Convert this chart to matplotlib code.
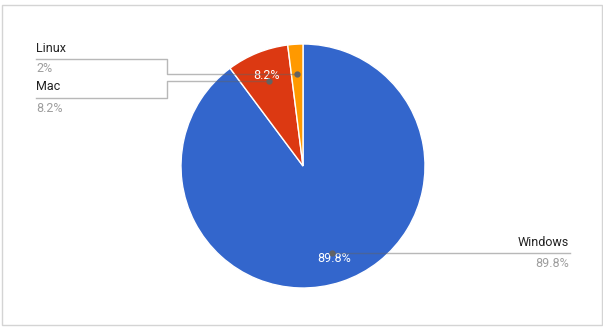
import numpy as np
import matplotlib.pyplot as plt
from matplotlib import rcParams
from matplotlib.patches import Rectangle

rcParams['font.family'] = ['Roboto', 'DejaVu Sans']
rcParams['font.size'] = 9

# data
labels = ['Windows', 'Mac', 'Linux']
values = [89.8, 8.2, 2.0]
value_labels = ['89.8%', '8.2%', '2%']
colors = ['#3366CC', '#DC3912', '#FF9900']

W, H = 603, 329
cx, cy, r = 303, H - 166, 122

fig = plt.figure(figsize=(W / 100, H / 100), dpi=100)
ax = fig.add_axes([0, 0, 1, 1])
ax.set_xlim(0, W)
ax.set_ylim(0, H)
ax.set_aspect('equal')
ax.axis('off')

# outer border
ax.add_patch(Rectangle((1.5, H - 325), 600, 320, fill=False,
                       edgecolor='#d4d4d4', linewidth=1))

wedges, texts, autotexts = ax.pie(
    values, colors=colors, startangle=90, counterclock=False,
    center=(cx, cy), radius=r, frame=True,
    autopct=lambda p: ('%.1f%%' % p) if p > 5 else '',
    pctdistance=0.8,
    wedgeprops=dict(edgecolor='white', linewidth=1),
    textprops=dict(color='white', fontsize=9))
ax.set_xlim(0, W)
ax.set_ylim(0, H)
ax.axis('off')

def anchor(w, frac=0.755):
    ang = np.deg2rad((w.theta1 + w.theta2) / 2)
    return cx + frac * r * np.cos(ang), cy + frac * r * np.sin(ang)

line_kw = dict(color='#636363', alpha=0.45, linewidth=1, zorder=5)
dot_kw = dict(color='#636363', markersize=3.5, zorder=6)

# Windows: straight line to the right
x0, y0 = anchor(wedges[0])
ax.plot([x0, 570], [y0, y0], **line_kw)
ax.plot(x0, y0, 'o', **dot_kw)
ax.text(569, y0 + 11, labels[0], ha='right', va='center', color='#222222')
ax.text(569, y0 - 10, value_labels[0], ha='right', va='center', color='#9e9e9e')

# Mac and Linux: elbow lines to the left
elbow_x = 167
for i, ty in [(2, H - 59), (1, H - 98)]:
    x0, y0 = anchor(wedges[i])
    ax.plot([x0, elbow_x, elbow_x, 36], [y0, y0, ty, ty], **line_kw)
    ax.plot(x0, y0, 'o', **dot_kw)
    ax.text(36, ty + 11, labels[i], ha='left', va='center', color='#222222')
    ax.text(36, ty - 10, value_labels[i], ha='left', va='center', color='#9e9e9e')

plt.savefig('out.png', dpi=100)
